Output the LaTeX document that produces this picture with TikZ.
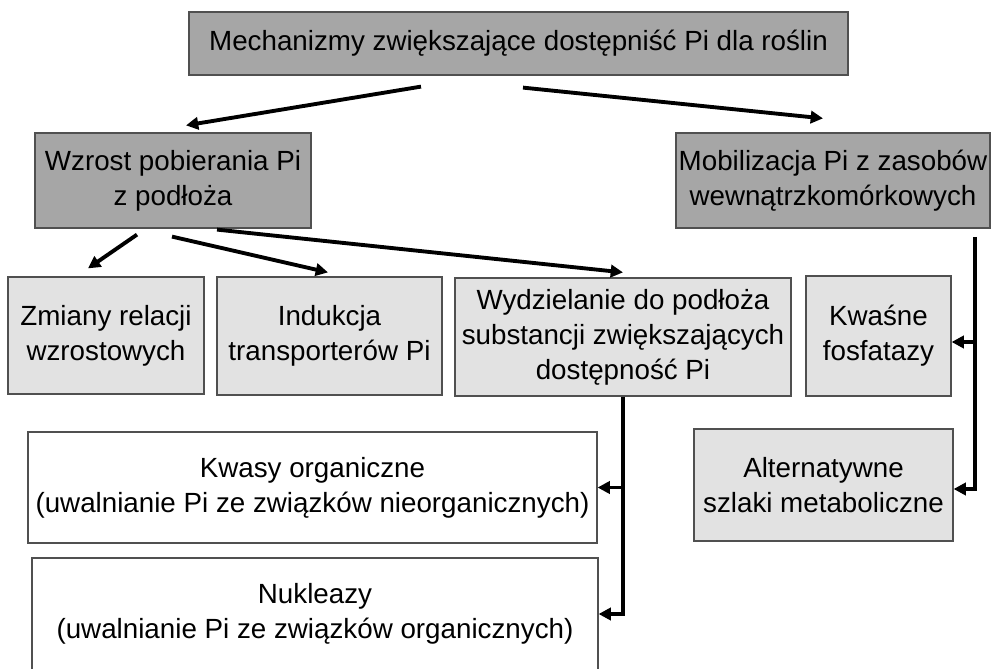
\documentclass[tikz,border=0pt]{standalone}
\usepackage{fontspec}
\setmainfont{Liberation Sans}
\usetikzlibrary{arrows.meta,calc}
\definecolor{darkbox}{HTML}{A6A6A6}
\definecolor{lightbox}{HTML}{E2E2E2}
\definecolor{edge}{HTML}{505050}
\tikzset{
  box/.style 2 args={draw=edge,line width=0.7pt,align=center,inner sep=0pt,
    minimum width=#1*0.02cm,minimum height=#2*0.02cm,
    font=\fontsize{15.8}{20}\selectfont},
  arr/.style={line width=2.2pt,-{Triangle[length=7pt,width=7pt]}}
}
\begin{document}
\begin{tikzpicture}[x=0.02cm,y=-0.02cm]
  \useasboundingbox (0,0) rectangle (992,669);
  \clip (0,0) rectangle (992,669);

  % upper levels
  \node[box={659}{63},fill=darkbox] (top) at (518.5,43.5) {Mechanizmy zwiększające dostępniść Pi dla roślin};
  \node[box={276}{95},fill=darkbox] (wzrost) at (173,180.5) {Wzrost pobierania Pi\\z podłoża};
  \node[box={314}{95},fill=darkbox] (mobil) at (833,180.5) {Mobilizacja Pi z zasobów\\wewnątrzkomórkowych};

  % middle row
  \node[box={196}{117},fill=lightbox] (zmiany) at (106,335.5) {Zmiany relacji\\wzrostowych};
  \node[box={225}{118},fill=lightbox] (indukcja) at (329.5,336) {Indukcja\\transporterów Pi};
  \node[box={336}{118},fill=lightbox] (wydziel) at (623,337) {Wydzielanie do podłoża\\substancji zwiększających\\dostępność Pi};
  \node[box={145}{120},fill=lightbox] (kwasne) at (878.5,336) {Kwaśne\\fosfatazy};
  \node[box={259}{112},fill=lightbox] (altern) at (823.5,485) {Alternatywne\\szlaki metaboliczne};

  % lower boxes
  \node[box={569}{111},fill=white] (kwasy) at (312.5,487.5) {Kwasy organiczne\\(uwalnianie Pi ze związków nieorganicznych)};
  \node[box={566}{112},fill=white] (nukle) at (315,614) {Nukleazy\\(uwalnianie Pi ze związków organicznych)};

  % arrows
  \draw[arr] ($(top.south)+(-97.5,11)$) -- ($(wzrost.north)+(13,-7)$);
  \draw[arr] ($(top.south)+(4.5,12)$) -- ($(mobil.north)+(-10,-14)$);
  \draw[arr] ($(wzrost.south)+(-36,6)$) -- ($(zmiany.north)+(-18,-8)$);
  \draw[arr] ($(wzrost.south)+(-1,8)$) -- ($(indukcja.north)+(-1.5,-4)$);
  \draw[arr] ($(wzrost.south)+(44,1)$) -- ($(wydziel.north)+(0,-5)$);

  \coordinate (wbranch) at (wydziel.south |- kwasy.east);
  \draw[arr] (wydziel.south) |- (nukle.east);
  \draw[arr] (wbranch) -- (kwasy.east);

  \coordinate (mstart) at (975,237);
  \draw[arr] (mstart) |- ($(altern.east)+(0,4)$);
  \draw[arr] (mstart |- kwasne.east) ++(0,6) -- ($(kwasne.east)+(0,6)$);
\end{tikzpicture}
\end{document}
